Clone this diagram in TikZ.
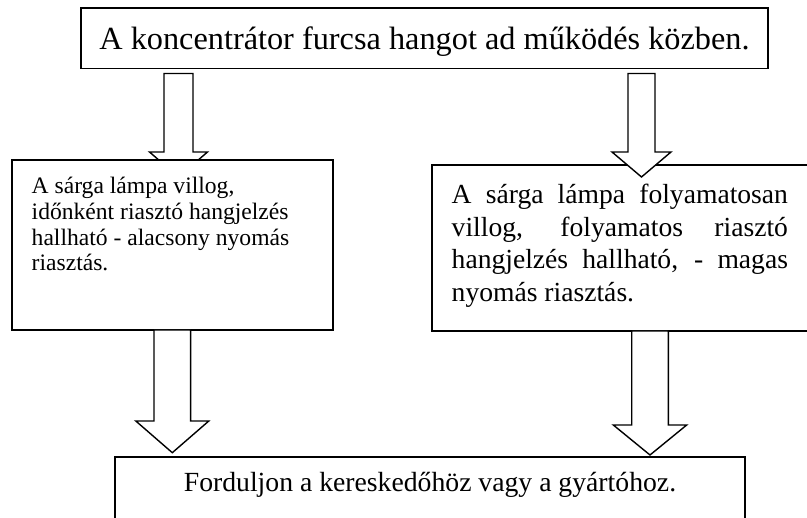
\documentclass[tikz,border=0pt]{standalone}
\usepackage{fontspec}
\setmainfont{Liberation Serif}
\usetikzlibrary{calc,backgrounds}

% hollow block arrow: from, to, x, shaft half width, head half width, head length, gap, tip offset
\newcommand{\hollowarrow}[8]{%
  \draw[hollow] let \p1=(#1.south), \p2=(#2.north) in
    ({#3pt-#4pt},{\y1-#7pt}) -- ({#3pt-#4pt},{\y2-(#8pt)+#6pt}) -- ({#3pt-#5pt},{\y2-(#8pt)+#6pt})
    -- ({#3pt},{\y2-(#8pt)}) -- ({#3pt+#5pt},{\y2-(#8pt)+#6pt}) -- ({#3pt+#4pt},{\y2-(#8pt)+#6pt})
    -- ({#3pt+#4pt},{\y1-#7pt}) -- cycle;}

\begin{document}
\begin{tikzpicture}[
    x=1pt, y=1pt,
    box/.style={rectangle, draw, fill=white, line width=1.7pt, inner ysep=0pt, inner xsep=0pt, outer sep=0pt},
    hollow/.style={draw, fill=white, line width=1.4pt, line join=miter}
]
\useasboundingbox (0,0) rectangle (807,-518);

% Problem
\node[box, anchor=north, minimum width=687pt, text height=41.3pt, text depth=19.2pt,
      font=\fontsize{32.3}{38}\selectfont] (start) at (424.5,-8) {A koncentrátor furcsa hangot ad működés közben.};

% Low pressure
\node[box, anchor=north west, inner xsep=19.7pt, text width=281.6pt, align=flush left,
      text height=33.3pt, text depth=136.7pt, font=\fontsize{23.6}{25.9}\selectfont] (low) at (12,-160) {
    A sárga lámpa villog,\\
    időnként riasztó hangjelzés\\
    hallható - alacsony nyomás\\
    riasztás.
};

% High pressure (box runs off the right edge)
\node[box, anchor=north west, inner xsep=19.7pt,
      text height=38.3pt, text depth=127.7pt, font=\fontsize{27.6}{32.8}\selectfont] (high) at (432,-165) {%
    \parbox[t]{336.3pt}{%
    A sárga lámpa folyamatosan\linebreak
    villog, folyamatos riasztó\linebreak
    hangjelzés hallható, - magas\linebreak
    nyomás riasztás.}\hspace*{12pt}%
};

% Dealer
\node[box, anchor=north, minimum width=630pt, text height=34.7pt, text depth=50pt,
      font=\fontsize{27.7}{33}\selectfont] (dealer) at (430,-457.3) {Forduljon a kereskedőhöz vagy a gyártóhoz.};

% Arrows
\begin{scope}[on background layer]
\hollowarrow{start}{low}{178.5}{14.5}{29}{25}{5}{17}
\end{scope}
\hollowarrow{start}{high}{641.5}{13.5}{29.5}{25}{5}{12}
\hollowarrow{low}{dealer}{172.3}{18.3}{36.5}{31.7}{0}{-4.6}
\hollowarrow{high}{dealer}{650}{18.3}{36.7}{30}{0}{-2.3}

\end{tikzpicture}
\end{document}
